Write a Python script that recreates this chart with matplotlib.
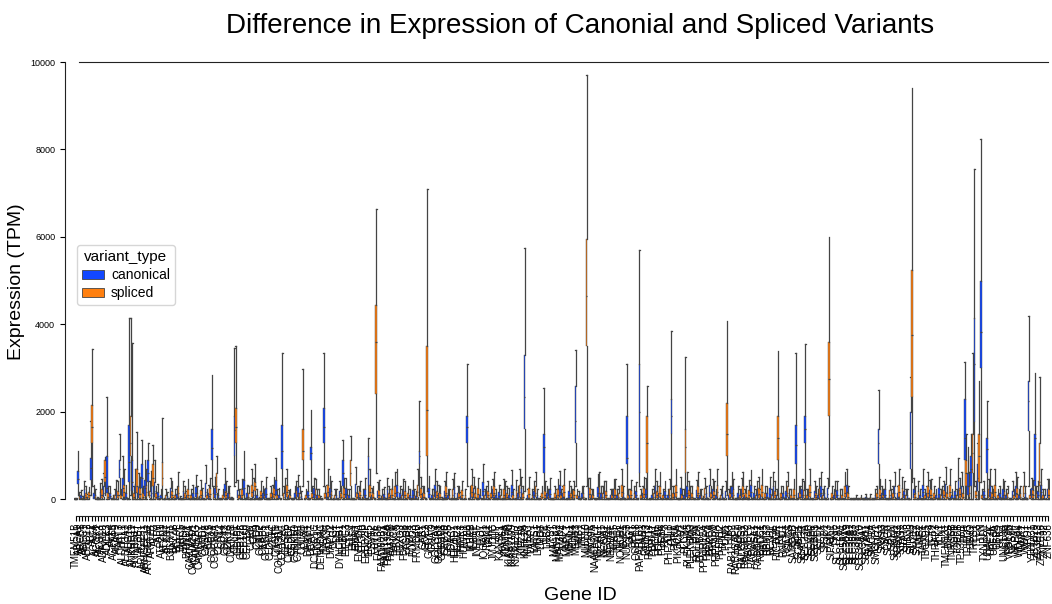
import matplotlib.pyplot as plt
import numpy as np
from matplotlib.patches import Patch

# gene ids on the x axis
genes = ["TMEM51B",
    "ABCA1", "ABCB8", "ABCC1", "ABHD12", "ABL2", "ACACA", "ACOX1", "ACSL3", "ADAM10", "ADCK3",
    "AFF4", "AGPAT5", "AKAP9", "AKT3", "ALDH1L1", "ALDH3A2", "ALG13", "ANKRD11", "ANKRD17", "AP3B1",
    "ARHGEF1", "ARHGEF11", "ARHGEF12", "ARID1B", "ATF2", "ATM", "ATP2B1", "ATXN2", "ATXN7",
    "B3GNT1", "BAZ2B", "BCL9L", "BIRC6", "BRD4", "BRWD1",
    "CACNA1A", "CACNA2D1", "CAMK2G", "CAMSAP2", "CAND1", "CASP8", "CBX5", "CCDC14", "CCDC88A", "CCNL1",
    "CD44", "CDC42", "CDK13", "CDKN1B", "CELF1", "CENPF", "CEP128", "CEP170", "CEP350", "CERK",
    "CFH", "CHD9", "CKAP2", "CKAP5", "CLASP1", "CLDN12", "CLTC", "CNOT1", "COL4A3BP", "COL12A1",
    "CPSF6", "CREBBP", "CSDE1", "CSNK1D", "CTNNB1", "CUL4B", "CUX1",
    "DAAM1", "DCAF7", "DCLRE1C", "DDX17", "DENND4C", "DGKH", "DHX36", "DIAPH2", "DLG1", "DST", "DYNC1H1",
    "EHBP1", "EIF4G3", "ELF2", "EMSY", "ENAH", "ENTPD4", "EP300", "ERBB2IP", "ERCC5", "ESYT2", "EVPL",
    "FAM13B", "FAM160B1", "FAM172A", "FAM193A", "FAM76B", "FANCA", "FBXL5", "FBXO3", "FBXO38", "FGD4",
    "FNBP4", "FOXO3", "FRMD4B", "FRY",
    "GAB1", "GCC2", "GIGYF2", "GNAQ", "GOLGA4", "GOLGB1", "GPR108", "GRB10", "GSK3B",
    "HDAC7", "HECTD1", "HERC2", "HIPK3", "HUWE1",
    "IFT88", "IKBKB", "IL6ST", "INPP5F", "IPO7", "IQGAP1", "ITSN2",
    "JAK1", "JMJD1C", "JUP",
    "KANSL1", "KAT6A", "KDM5A", "KIAA0100", "KIAA1109", "KIAA1217", "KIF1B", "KIF21A", "KLHL24", "KMT2C",
    "LARP1", "LATS1", "LMBR1", "LMO7", "LPP", "LRBA", "LYST",
    "MACF1", "MAN1A2", "MAP3K2", "MAP4", "MAPK1", "MBNL1", "MDM4", "MED13", "MIB1", "MKL2", "MLLT10",
    "MPRIP", "MYO9A",
    "NAALADL2", "NBEAL1", "NCAM1", "NCOA2", "NCOR1", "NEDD4L", "NFAT5", "NIPBL", "NOTCH2", "NRIP1", "NUP153",
    "OGT", "OPA1", "OSBPL8",
    "PAFAH1B1", "PAN3", "PAQR3", "PARP14", "PBRM1", "PCM1", "PDE4D", "PDS5A", "PHF3", "PHF20L1",
    "PHIP", "PI4KA", "PIK3C2A", "PKN2", "PLCB4", "PLEKHA5", "PLEKHM3", "PNN", "POLR2A", "PPFIBP1",
    "PPP1R12A", "PPP6R3", "PRKCA", "PRKD3", "PRPF40A", "PTPN12", "PTPRK", "PUM1",
    "QKI",
    "RAB11FIP2", "RAB3GAP2", "RAD50", "RALGPS1", "RALGPS2", "RANBP2", "RAPGEF2", "RASA1", "RASGRF2",
    "RB1CC1", "RBM25", "RBM33", "RC3H1", "REV3L", "RICTOR", "RIF1", "RNF111", "ROCK1",
    "SACS", "SAMD4B", "SBF2", "SCAF11", "SCAPER", "SEC23A", "SEC24B", "SENP6", "SERBP1", "SETD2",
    "SETX", "SF3B1", "SIK3", "SIPA1L1", "SKIL", "SLC12A2", "SLC16A1", "SLC25A16", "SLC30A9", "SLC33A1",
    "SLC35A3", "SLC38A1", "SLC39A10", "SLC4A7", "SLC7A11", "SMAD4", "SMC1A", "SMCHD1", "SMG1", "SNX13",
    "SON", "SPAG9", "SPEN", "SPTAN1", "SRRM2", "STAG2", "STAT3", "STK38", "STRN3", "SUZ12", "SYNE2",
    "TAB2", "TANC1", "TBC1D5", "TCF4", "TET2", "THRAP3", "TLK1", "TLN1", "TMEM131", "TNKS",
    "TNRC6B", "TOP1", "TOP2B", "TP53BP1", "TPR", "TRIM33", "TRIO", "TRPS1", "TTC3", "TTN", "TXNRD1",
    "UBAP2L", "UBE2K", "UBE3A", "UBR4", "ULK2", "UNC13B", "USP34",
    "VPS13B", "VPS54", "WAPAL", "WDR44", "WNK1", "WWC1", "XPO1", "YTHDC1",
    "ZBTB20", "ZC3H13", "ZFYVE16", "ZNF292", "ZNF638"]

# box statistics per gene: [low whisker, q1, median, q3, high whisker] in TPM
canonical = [
    [0, 0, 5, 15, 40], [100, 360, 470, 640, 1100], [0, 10, 30, 90, 220], [0, 40, 110, 230, 420], [0, 5, 20, 50, 130], [100, 450, 720, 950, 1800],  # 0
    [0, 20, 60, 150, 330], [0, 0, 5, 20, 60], [0, 30, 90, 180, 380], [0, 60, 150, 300, 600], [0, 150, 270, 1000, 2330], [0, 20, 70, 150, 300],  # 6
    [0, 0, 10, 30, 90], [0, 30, 100, 200, 450], [100, 500, 700, 900, 1500], [0, 80, 250, 500, 1000], [0, 20, 60, 140, 320], [0, 400, 850, 1700, 4150],  # 12
    [0, 200, 400, 900, 3570], [0, 60, 180, 350, 700], [0, 40, 130, 280, 600], [0, 250, 500, 800, 1350], [0, 80, 250, 450, 900], [100, 400, 600, 900, 1300],  # 18
    [0, 50, 150, 300, 650], [0, 60, 200, 400, 900], [0, 20, 70, 160, 350], [0, 10, 40, 100, 230], [0, 0, 5, 15, 40], [0, 10, 30, 80, 180],  # 24
    [0, 40, 120, 250, 500], [0, 0, 5, 20, 50], [0, 20, 60, 130, 300], [0, 0, 10, 30, 80], [0, 30, 90, 200, 420], [0, 10, 40, 90, 200],  # 30
    [0, 0, 5, 15, 40], [0, 20, 60, 150, 330], [0, 50, 150, 280, 560], [0, 0, 10, 30, 70], [0, 10, 40, 110, 260], [0, 60, 180, 380, 780],  # 36
    [0, 20, 70, 150, 320], [300, 900, 1170, 1600, 2850], [0, 40, 120, 260, 520], [0, 10, 40, 100, 240], [0, 0, 5, 15, 40], [0, 60, 180, 350, 720],  # 42
    [0, 20, 60, 140, 300], [0, 0, 10, 25, 60], [300, 1000, 1580, 1900, 3450], [0, 40, 100, 220, 450], [0, 10, 40, 100, 230], [0, 100, 250, 450, 1100],  # 48
    [0, 20, 60, 150, 330], [0, 0, 5, 15, 40], [0, 30, 100, 220, 480], [0, 10, 40, 100, 240], [0, 0, 5, 20, 50], [0, 20, 60, 140, 300],  # 54
    [0, 40, 120, 250, 520], [0, 0, 5, 15, 40], [0, 20, 70, 150, 330], [0, 80, 220, 450, 950], [0, 10, 40, 100, 250], [100, 700, 1100, 1700, 3350],  # 60
    [0, 40, 120, 240, 480], [0, 10, 40, 90, 220], [0, 0, 5, 15, 40], [0, 20, 60, 140, 310], [0, 50, 140, 280, 560], [0, 10, 30, 80, 200],  # 66
    [0, 0, 5, 15, 40], [0, 30, 90, 200, 420], [200, 900, 1050, 1200, 2050], [0, 40, 120, 250, 500], [0, 10, 40, 100, 230], [0, 0, 10, 30, 70],  # 72
    [300, 1300, 1650, 2100, 3350], [0, 20, 60, 140, 320], [0, 50, 130, 260, 530], [0, 0, 5, 15, 40], [0, 10, 40, 100, 240], [0, 30, 90, 200, 430],  # 78
    [0, 300, 600, 900, 1350], [0, 40, 120, 250, 500], [0, 10, 40, 100, 230], [0, 0, 5, 15, 40], [0, 60, 180, 360, 740], [0, 20, 60, 140, 300],  # 84
    [0, 0, 5, 20, 50], [0, 40, 110, 230, 480], [0, 300, 700, 1000, 1400], [0, 10, 40, 100, 250], [0, 0, 5, 15, 40], [0, 30, 90, 190, 400],  # 90
    [0, 0, 10, 30, 80], [0, 20, 60, 130, 290], [0, 40, 120, 240, 500], [0, 10, 40, 100, 230], [0, 0, 5, 15, 40], [0, 60, 170, 340, 700],  # 96
    [0, 20, 60, 140, 310], [0, 40, 110, 230, 460], [0, 0, 5, 15, 40], [0, 10, 40, 100, 240], [0, 30, 100, 210, 440], [0, 10, 30, 80, 190],  # 102
    [100, 800, 1000, 1100, 2250], [0, 20, 60, 140, 300], [0, 0, 5, 15, 40], [0, 40, 130, 260, 540], [0, 10, 40, 100, 230], [0, 60, 170, 340, 700],  # 108
    [0, 20, 60, 150, 320], [0, 0, 5, 20, 50], [0, 30, 90, 200, 420], [0, 10, 40, 100, 240], [0, 0, 5, 15, 40], [0, 50, 140, 290, 600],  # 114
    [0, 20, 60, 140, 300], [0, 10, 30, 80, 180], [0, 0, 5, 15, 40], [300, 1300, 1650, 1900, 3100], [0, 20, 60, 140, 310], [0, 40, 120, 250, 520],  # 120
    [0, 0, 5, 15, 40], [0, 10, 40, 100, 240], [0, 70, 200, 400, 820], [0, 20, 60, 140, 300], [0, 0, 5, 15, 40], [0, 40, 110, 230, 470],  # 126
    [0, 10, 40, 100, 230], [0, 20, 70, 160, 340], [0, 0, 5, 15, 40], [0, 30, 100, 210, 430], [0, 10, 40, 100, 250], [0, 60, 170, 330, 680],  # 132
    [0, 0, 5, 15, 40], [0, 20, 60, 140, 300], [0, 40, 120, 250, 510], [200, 1600, 2350, 3300, 5750], [0, 10, 40, 100, 240], [0, 0, 5, 15, 40],  # 138
    [0, 30, 90, 200, 420], [0, 10, 40, 100, 230], [0, 0, 10, 30, 70], [0, 600, 1200, 1500, 2550], [0, 20, 60, 140, 310], [0, 40, 120, 240, 500],  # 144
    [0, 0, 5, 15, 40], [0, 10, 40, 100, 240], [0, 60, 160, 320, 660], [0, 20, 60, 140, 300], [0, 0, 5, 15, 40], [0, 30, 90, 200, 410],  # 150
    [0, 10, 40, 100, 230], [300, 1300, 1800, 2600, 3420], [0, 10, 30, 80, 200], [0, 20, 60, 140, 300], [0, 0, 5, 15, 40], [0, 40, 120, 250, 500],  # 156
    [0, 10, 40, 100, 240], [0, 0, 5, 15, 40], [0, 50, 140, 290, 590], [0, 20, 60, 140, 300], [0, 30, 90, 200, 420], [0, 0, 5, 15, 40],  # 162
    [0, 10, 40, 100, 240], [0, 40, 110, 230, 460], [0, 10, 40, 100, 230], [0, 0, 5, 15, 40], [0, 20, 60, 140, 300], [0, 800, 950, 1900, 3100],  # 168
    [0, 10, 40, 100, 240], [0, 0, 5, 15, 40], [0, 30, 90, 190, 400], [300, 600, 2000, 3100, 5700], [0, 20, 60, 140, 310], [0, 40, 120, 240, 490],  # 174
    [0, 0, 5, 15, 40], [0, 10, 40, 100, 230], [0, 60, 170, 340, 700], [0, 20, 60, 140, 300], [0, 0, 5, 15, 40], [0, 30, 90, 200, 420],  # 180
    [0, 10, 40, 100, 240], [0, 1500, 1900, 2300, 3850], [0, 20, 60, 140, 300], [0, 0, 5, 15, 40], [0, 40, 120, 250, 520], [0, 10, 40, 100, 230],  # 186
    [0, 50, 150, 300, 620], [0, 20, 60, 140, 310], [0, 0, 5, 15, 40], [0, 30, 100, 210, 440], [0, 10, 40, 100, 240], [0, 0, 10, 30, 70],  # 192
    [0, 20, 60, 140, 300], [0, 60, 170, 340, 700], [0, 40, 110, 230, 460], [0, 10, 40, 100, 230], [0, 0, 5, 15, 40], [0, 20, 60, 140, 300],  # 198
    [0, 30, 90, 200, 420], [0, 10, 40, 100, 240], [0, 50, 150, 300, 620], [0, 0, 5, 15, 40], [0, 20, 60, 140, 310], [0, 40, 120, 240, 500],  # 204
    [0, 10, 40, 100, 230], [0, 0, 5, 15, 40], [0, 60, 160, 330, 680], [0, 20, 60, 140, 300], [0, 30, 100, 210, 430], [0, 10, 40, 100, 240],  # 210
    [0, 0, 5, 15, 40], [0, 20, 60, 140, 300], [0, 40, 120, 250, 510], [0, 50, 150, 300, 620], [0, 10, 40, 100, 230], [0, 0, 5, 15, 40],  # 216
    [0, 20, 60, 140, 310], [0, 30, 90, 200, 420], [0, 10, 40, 100, 240], [0, 0, 5, 15, 40], [0, 800, 1250, 1700, 3350], [0, 20, 60, 140, 300],  # 222
    [0, 40, 110, 230, 470], [0, 1300, 1600, 1900, 3550], [0, 10, 40, 100, 230], [0, 0, 5, 15, 40], [0, 30, 90, 200, 420], [0, 10, 40, 100, 240],  # 228
    [0, 50, 150, 300, 620], [0, 20, 60, 140, 300], [0, 40, 120, 250, 500], [0, 0, 5, 15, 40], [0, 10, 40, 100, 230], [0, 30, 100, 210, 430],  # 234
    [0, 10, 40, 100, 240], [0, 0, 5, 15, 40], [0, 60, 170, 340, 700], [0, 0, 5, 15, 40], [0, 0, 5, 15, 40], [0, 5, 15, 40, 100],  # 240
    [0, 0, 5, 15, 40], [0, 0, 5, 15, 40], [0, 5, 20, 50, 120], [0, 0, 5, 15, 40], [0, 0, 5, 15, 40], [0, 10, 40, 100, 230],  # 246
    [0, 800, 1300, 1600, 2500], [0, 20, 60, 140, 300], [0, 40, 110, 230, 470], [0, 0, 5, 15, 40], [0, 10, 40, 100, 240], [0, 50, 150, 300, 620],  # 252
    [0, 20, 60, 140, 300], [0, 0, 5, 15, 40], [0, 30, 90, 200, 420], [0, 10, 40, 100, 230], [0, 700, 1300, 2000, 2800], [0, 40, 120, 240, 490],  # 258
    [0, 0, 5, 15, 40], [0, 10, 40, 100, 240], [0, 60, 170, 340, 700], [0, 20, 60, 140, 300], [0, 30, 100, 210, 440], [0, 0, 5, 15, 40],  # 264
    [0, 10, 40, 100, 230], [0, 40, 120, 250, 510], [0, 20, 60, 140, 300], [0, 60, 180, 360, 750], [0, 0, 5, 15, 40], [0, 10, 40, 100, 240],  # 270
    [0, 30, 90, 200, 420], [0, 80, 220, 450, 950], [0, 50, 150, 300, 620], [0, 900, 1400, 2300, 3150], [0, 100, 300, 600, 1200], [0, 300, 700, 1000, 1500],  # 276
    [300, 1780, 3100, 4140, 7550], [0, 200, 500, 800, 1300], [400, 3000, 3820, 4990, 8250], [0, 30, 90, 200, 420], [0, 600, 1150, 1400, 2250], [0, 60, 170, 340, 700],  # 282
    [0, 10, 40, 100, 240], [0, 0, 5, 15, 40], [0, 20, 60, 140, 300], [0, 40, 110, 230, 460], [0, 10, 40, 100, 230], [0, 0, 5, 15, 40],  # 288
    [0, 30, 90, 200, 420], [0, 50, 150, 300, 620], [0, 10, 40, 100, 240], [0, 0, 5, 15, 40], [0, 20, 60, 140, 300], [300, 1555, 2250, 2700, 4200],  # 294
    [0, 40, 120, 250, 500], [0, 300, 1400, 1500, 2900], [0, 30, 90, 200, 420], [0, 60, 170, 340, 700], [0, 10, 40, 100, 230], [0, 40, 110, 230, 470],  # 300
]

spliced = [
    [0, 0, 5, 15, 40], [0, 10, 30, 70, 160], [0, 0, 10, 30, 80], [0, 20, 60, 140, 300], [0, 30, 90, 180, 280], [300, 1300, 1650, 2150, 3430],  # 0
    [0, 10, 40, 100, 230], [0, 0, 5, 15, 40], [0, 40, 110, 230, 460], [100, 400, 520, 900, 970], [0, 20, 60, 140, 300], [0, 0, 5, 15, 40],  # 6
    [0, 10, 40, 100, 240], [0, 30, 90, 200, 420], [0, 10, 40, 100, 230], [0, 60, 170, 340, 700], [0, 0, 5, 15, 40], [100, 1000, 1300, 1900, 4150],  # 12
    [0, 20, 60, 140, 300], [0, 150, 300, 700, 1550], [0, 40, 120, 250, 520], [0, 20, 60, 140, 310], [0, 60, 170, 340, 700], [0, 30, 90, 200, 420],  # 18
    [0, 300, 500, 800, 1250], [0, 20, 60, 140, 300], [0, 0, 5, 15, 40], [0, 300, 500, 850, 1850], [0, 10, 40, 100, 240], [0, 0, 5, 15, 40],  # 24
    [0, 30, 90, 200, 420], [0, 10, 40, 100, 230], [0, 50, 150, 300, 620], [0, 0, 5, 15, 40], [0, 20, 60, 140, 300], [0, 40, 110, 230, 470],  # 30
    [0, 10, 40, 100, 240], [0, 0, 5, 15, 40], [0, 20, 60, 140, 300], [0, 30, 100, 210, 440], [0, 0, 5, 15, 40], [0, 10, 40, 100, 230],  # 36
    [0, 40, 120, 250, 500], [0, 20, 60, 140, 300], [0, 150, 300, 600, 1000], [0, 0, 5, 15, 40], [0, 10, 40, 100, 240], [0, 30, 90, 200, 420],  # 42
    [0, 20, 60, 140, 300], [0, 0, 5, 15, 40], [400, 1300, 1650, 2100, 3500], [0, 10, 40, 100, 230], [0, 40, 110, 230, 460], [0, 0, 5, 15, 40],  # 48
    [0, 20, 60, 140, 300], [0, 60, 170, 340, 700], [0, 200, 300, 400, 800], [0, 0, 5, 15, 40], [0, 30, 90, 200, 420], [0, 10, 40, 100, 240],  # 54
    [0, 0, 5, 15, 40], [0, 20, 60, 140, 300], [0, 40, 120, 250, 510], [0, 10, 40, 100, 230], [0, 0, 5, 15, 40], [0, 20, 60, 140, 300],  # 60
    [0, 60, 170, 340, 700], [0, 10, 40, 100, 240], [0, 0, 5, 15, 40], [0, 30, 100, 210, 430], [0, 20, 60, 140, 300], [300, 900, 1100, 1600, 2980],  # 66
    [0, 10, 40, 100, 230], [0, 0, 5, 15, 40], [0, 20, 60, 140, 300], [0, 40, 110, 230, 460], [0, 10, 40, 100, 240], [0, 0, 5, 15, 40],  # 72
    [0, 20, 60, 140, 300], [0, 60, 170, 340, 700], [0, 30, 90, 200, 420], [0, 10, 40, 100, 230], [0, 0, 5, 15, 40], [0, 20, 60, 140, 300],  # 78
    [0, 40, 120, 250, 500], [0, 10, 40, 100, 240], [0, 300, 600, 900, 1450], [0, 0, 5, 15, 40], [0, 20, 60, 140, 300], [0, 30, 90, 200, 420],  # 84
    [0, 10, 40, 100, 230], [0, 0, 5, 15, 40], [0, 60, 170, 340, 700], [0, 20, 60, 140, 300], [600, 2400, 3600, 4450, 6650], [0, 30, 100, 210, 440],  # 90
    [0, 10, 40, 100, 240], [0, 0, 5, 15, 40], [0, 20, 60, 140, 300], [0, 40, 110, 230, 460], [0, 50, 150, 300, 620], [0, 0, 5, 15, 40],  # 96
    [0, 10, 40, 100, 230], [0, 30, 90, 200, 420], [0, 20, 60, 140, 300], [0, 0, 5, 15, 40], [0, 10, 40, 100, 240], [0, 60, 170, 340, 700],  # 102
    [0, 40, 120, 250, 510], [0, 20, 60, 140, 300], [200, 1000, 2050, 3500, 7100], [0, 0, 5, 15, 40], [0, 10, 40, 100, 230], [0, 30, 90, 200, 420],  # 108
    [0, 20, 60, 140, 300], [0, 0, 5, 15, 40], [0, 50, 150, 300, 620], [0, 10, 40, 100, 240], [0, 40, 110, 230, 460], [0, 0, 5, 15, 40],  # 114
    [0, 20, 60, 140, 300], [0, 30, 100, 210, 430], [0, 10, 40, 100, 230], [0, 0, 5, 15, 40], [0, 60, 170, 340, 700], [0, 20, 60, 140, 300],  # 120
    [0, 40, 120, 250, 500], [0, 0, 5, 15, 40], [0, 10, 40, 100, 240], [0, 30, 90, 200, 420], [0, 20, 60, 140, 300], [0, 50, 150, 300, 620],  # 126
    [0, 0, 5, 15, 40], [0, 10, 40, 100, 230], [0, 40, 110, 230, 460], [0, 20, 60, 140, 300], [0, 0, 5, 15, 40], [0, 10, 40, 100, 240],  # 132
    [0, 30, 100, 210, 440], [0, 60, 170, 340, 700], [0, 20, 60, 140, 300], [0, 0, 5, 15, 40], [0, 40, 120, 250, 510], [0, 10, 40, 100, 230],  # 138
    [0, 50, 150, 300, 620], [0, 0, 5, 15, 40], [0, 20, 60, 140, 300], [0, 30, 90, 200, 420], [0, 10, 40, 100, 240], [0, 0, 5, 15, 40],  # 144
    [0, 20, 60, 140, 300], [0, 40, 110, 230, 460], [0, 10, 40, 100, 230], [0, 60, 170, 340, 700], [0, 0, 5, 15, 40], [0, 20, 60, 140, 300],  # 150
    [0, 30, 100, 210, 430], [0, 10, 40, 100, 240], [0, 0, 5, 15, 40], [0, 20, 60, 140, 300], [300, 3500, 4650, 5950, 9700], [0, 40, 120, 250, 500],  # 156
    [0, 10, 40, 100, 230], [0, 0, 5, 15, 40], [0, 50, 150, 300, 620], [0, 20, 60, 140, 300], [0, 30, 90, 200, 420], [0, 0, 5, 15, 40],  # 162
    [0, 10, 40, 100, 240], [0, 40, 110, 230, 460], [0, 20, 60, 140, 300], [0, 60, 170, 340, 700], [0, 0, 5, 15, 40], [0, 10, 40, 100, 230],  # 168
    [0, 30, 100, 210, 440], [0, 20, 60, 140, 300], [0, 0, 5, 15, 40], [0, 10, 40, 100, 240], [0, 40, 120, 250, 510], [0, 600, 1300, 1900, 2600],  # 174
    [0, 0, 5, 15, 40], [0, 20, 60, 140, 300], [0, 30, 90, 200, 420], [0, 50, 150, 300, 620], [0, 10, 40, 100, 230], [0, 0, 5, 15, 40],  # 180
    [0, 40, 110, 230, 460], [0, 20, 60, 140, 300], [0, 60, 170, 340, 700], [0, 0, 5, 15, 40], [0, 10, 40, 100, 240], [0, 600, 1200, 1600, 3250],  # 186
    [0, 30, 100, 210, 430], [0, 20, 60, 140, 300], [0, 0, 5, 15, 40], [0, 50, 150, 300, 620], [0, 10, 40, 100, 230], [0, 40, 120, 250, 500],  # 192
    [0, 0, 5, 15, 40], [0, 20, 60, 140, 300], [0, 30, 90, 200, 420], [0, 60, 170, 340, 700], [0, 10, 40, 100, 240], [0, 0, 5, 15, 40],  # 198
    [100, 1000, 1500, 2200, 4080], [0, 20, 60, 140, 300], [0, 40, 110, 230, 460], [0, 0, 5, 15, 40], [0, 10, 40, 100, 230], [0, 50, 150, 300, 620],  # 204
    [0, 20, 60, 140, 300], [0, 30, 100, 210, 440], [0, 0, 5, 15, 40], [0, 10, 40, 100, 240], [0, 40, 120, 250, 510], [0, 60, 170, 340, 700],  # 210
    [0, 20, 60, 140, 300], [0, 0, 5, 15, 40], [0, 10, 40, 100, 230], [0, 30, 90, 200, 420], [0, 900, 1400, 1900, 3400], [0, 20, 60, 140, 300],  # 216
    [0, 0, 5, 15, 40], [0, 50, 150, 300, 620], [0, 10, 40, 100, 240], [0, 40, 110, 230, 460], [0, 0, 5, 15, 40], [0, 20, 60, 140, 300],  # 222
    [0, 30, 100, 210, 430], [0, 10, 40, 100, 230], [0, 60, 170, 340, 700], [0, 0, 5, 15, 40], [0, 20, 60, 140, 300], [0, 40, 120, 250, 500],  # 228
    [0, 10, 40, 100, 240], [0, 0, 5, 15, 40], [300, 1900, 2750, 3600, 6000], [0, 20, 60, 140, 300], [0, 30, 90, 200, 420], [0, 0, 5, 15, 40],  # 234
    [0, 10, 40, 100, 230], [0, 50, 150, 300, 620], [0, 20, 60, 140, 300], [0, 0, 5, 15, 40], [0, 0, 5, 15, 40], [0, 0, 5, 15, 40],  # 240
    [0, 5, 15, 40, 100], [0, 0, 5, 15, 40], [0, 0, 5, 15, 40], [0, 5, 20, 50, 120], [0, 0, 5, 15, 40], [0, 20, 60, 140, 300],  # 246
    [0, 40, 110, 230, 460], [0, 10, 40, 100, 240], [0, 0, 5, 15, 40], [0, 30, 100, 210, 440], [0, 20, 60, 140, 300], [0, 0, 5, 15, 40],  # 252
    [0, 60, 170, 340, 700], [0, 40, 120, 250, 510], [0, 10, 40, 100, 230], [0, 0, 5, 15, 40], [400, 2350, 3750, 5250, 9400], [0, 20, 60, 140, 300],  # 258
    [0, 30, 90, 200, 420], [0, 0, 5, 15, 40], [0, 10, 40, 100, 240], [0, 50, 150, 300, 620], [0, 40, 110, 230, 460], [0, 20, 60, 140, 300],  # 264
    [0, 0, 5, 15, 40], [0, 10, 40, 100, 230], [0, 30, 100, 210, 430], [0, 20, 60, 140, 300], [0, 60, 170, 340, 700], [0, 0, 5, 15, 40],  # 270
    [0, 10, 40, 100, 240], [0, 40, 120, 250, 500], [0, 20, 60, 140, 300], [0, 300, 600, 900, 1500], [0, 50, 150, 300, 620], [0, 600, 1050, 1500, 3350],  # 276
    [0, 30, 90, 200, 420], [0, 400, 1000, 1500, 2700], [0, 10, 40, 100, 230], [0, 0, 5, 15, 40], [0, 40, 110, 230, 460], [0, 20, 60, 140, 300],  # 282
    [0, 60, 170, 340, 700], [0, 10, 40, 100, 240], [0, 0, 5, 15, 40], [0, 30, 90, 200, 420], [0, 20, 60, 140, 300], [0, 0, 5, 15, 40],  # 288
    [0, 10, 40, 100, 230], [0, 40, 120, 250, 510], [0, 20, 60, 140, 300], [0, 50, 150, 300, 620], [0, 0, 5, 15, 40], [0, 10, 40, 100, 240],  # 294
    [0, 30, 100, 210, 440], [0, 20, 60, 140, 300], [0, 300, 400, 1300, 2800], [0, 10, 40, 100, 230], [0, 0, 5, 15, 40], [0, 40, 110, 230, 460],  # 300
]

variant_names = ["canonical", "spliced"]
variant_colors = ["#1147ff", "#ff7f0e"]
line_gray = "#444444"

plt.rcParams['font.family'] = ['Liberation Sans', 'DejaVu Sans']

n = len(genes)
fig = plt.figure(figsize=(10.52, 6.04), dpi=100)
ax = fig.add_axes([74 / 1052, 102 / 604, 976 / 1052, 440 / 604])

# spines first: moving a spine resets the tick objects
ax.spines['right'].set_visible(False)
ax.spines['left'].set_position(('outward', 6.5))
ax.spines['bottom'].set_position(('outward', 10))
for sp in ['left', 'bottom', 'top']:
    ax.spines[sp].set_linewidth(0.8)
    ax.spines[sp].set_color('#222222')

x = np.arange(n)
for series, offset, color in [(canonical, -0.22, variant_colors[0]), (spliced, 0.22, variant_colors[1])]:
    stats = [dict(whislo=s[0], q1=s[1], med=s[2], q3=s[3], whishi=s[4]) for s in series]
    ax.bxp(stats, positions=x + offset, widths=0.52, patch_artist=True,
           showfliers=False, manage_ticks=False,
           boxprops=dict(facecolor=color, edgecolor=line_gray, linewidth=0.3),
           whiskerprops=dict(color=line_gray, linewidth=0.9),
           capprops=dict(color=line_gray, linewidth=0.9),
           medianprops=dict(color=line_gray, linewidth=0.9))

ax.set_xlim(-0.5, n - 0.5)
ax.set_ylim(-60, 10000)
ax.set_xticks(x)
ax.set_xticklabels(genes, rotation=90, fontsize=7)
ax.set_yticks([0, 2000, 4000, 6000, 8000, 10000])
ax.tick_params(axis='y', labelsize=6.5, length=3.5, width=0.8)
ax.tick_params(axis='x', length=3.5, width=0.8, pad=1.5)
ax.spines['left'].set_bounds(0, 10000)
ax.spines['bottom'].set_bounds(0, n - 1)
ax.spines['top'].set_bounds(1, n - 1)

ax.set_ylabel('Expression (TPM)', fontsize=14, labelpad=4)
fig.text(580 / 1052, 1 - 596 / 604, 'Gene ID', fontsize=14, ha='center', va='center')
fig.text(580 / 1052, 1 - 26 / 604, 'Difference in Expression of Canonial and Spliced Variants',
         fontsize=20, ha='center', va='center')

handles = [Patch(facecolor=c, edgecolor=line_gray, linewidth=0.6, label=l)
           for c, l in zip(variant_colors, variant_names)]
ax.legend(handles=handles, title='variant_type', loc='upper left',
          bbox_to_anchor=(77 / 1052, 1 - 245 / 604), bbox_transform=fig.transFigure,
          borderaxespad=0, fontsize=10, title_fontsize=11,
          handlelength=1.6, handleheight=0.6, handletextpad=0.5, borderpad=0.35,
          labelspacing=0.3)

fig.savefig('out.png', dpi=100)
